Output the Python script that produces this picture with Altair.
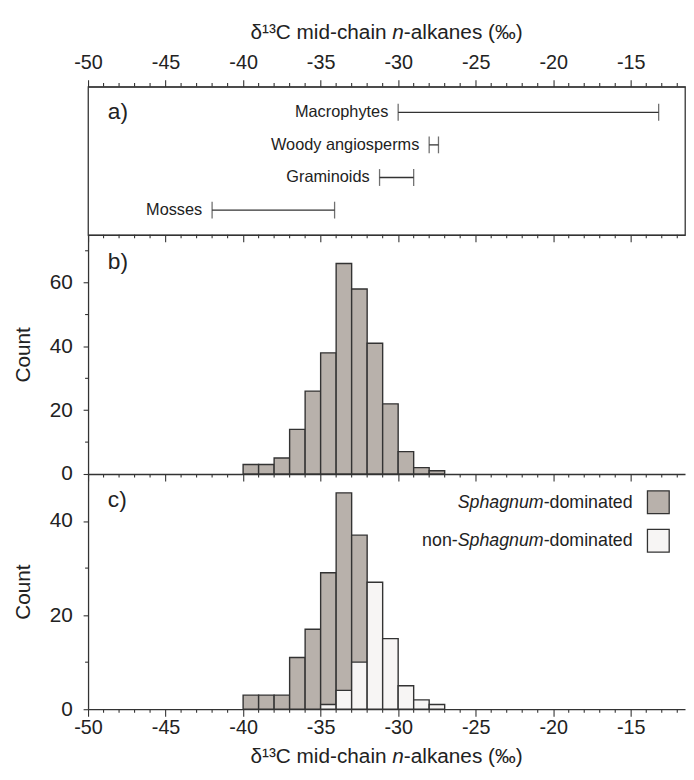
import json
import altair as alt
import pandas as pd

FONT = "Liberation Sans"
INK = "#333333"
TEXT = "#222222"
GRAY = "#b8b1ab"
WHITE = "#f7f5f4"

# ---- data ----
groups = ["Macrophytes", "Woody angiosperms", "Graminoids", "Mosses"]
range_lo = [-30.0, -28.0, -31.2, -42.0]
range_hi = [-13.2, -27.4, -29.0, -34.1]

bin_lo = [-40, -39, -38, -37, -36, -35, -34, -33, -32, -31, -30, -29, -28]
bin_hi = [-39, -38, -37, -36, -35, -34, -33, -32, -31, -30, -29, -28, -27]
counts_all = [3, 3, 5, 14, 26, 38, 66, 58, 41, 22, 7, 2, 1]
counts_sph = [3, 3, 3, 11, 17, 29, 46, 37, 0, 0, 0, 0, 0]
counts_non = [0, 0, 0, 0, 0, 1, 4, 10, 27, 15, 5, 2, 1]

x_major = [-50, -45, -40, -35, -30, -25, -20, -15]
x_minor = [v for v in range(-50, -11) if v % 5 != 0]
x_domain = [-50, -11.5]
yb_major = [0, 20, 40, 60]
yb_minor = [10, 30, 50, 70]
yc_major = [0, 20, 40]
yc_minor = [10, 30]

W = 604
HA, HB, HC = 150, 242, 238

df_a = pd.DataFrame({"group": groups, "lo": range_lo, "hi": range_hi})
df_b = pd.DataFrame({"lo": bin_lo, "hi": bin_hi, "n": counts_all})
df_cs = pd.DataFrame({"lo": bin_lo, "hi": bin_hi, "n": counts_sph})
df_cn = pd.DataFrame({"lo": bin_lo, "hi": bin_hi, "n": counts_non})
df_xminor = pd.DataFrame({"v": x_minor})
one = pd.DataFrame({"k": [0]})

xscale = alt.Scale(domain=x_domain, nice=False, zero=False)
yb_scale = alt.Scale(domain=[0, 75], nice=False)
yc_scale = alt.Scale(domain=[0, 50], nice=False)


def x_axis(orient, show_labels):
    kw = dict(orient=orient, values=x_major, title=None, grid=False, tickSize=7,
              labels=show_labels, domainColor=INK, tickColor=INK, tickWidth=1.1,
              domainWidth=1.3)
    if show_labels:
        kw.update(labelExpr="'' + datum.value", labelFontSize=20,
                  labelPadding=7 if orient == "top" else 2, labelOverlap=False,
                  labelColor=TEXT, labelFlush=False, labelBound=False, labelFont=FONT)
    return alt.Axis(**kw)


def y_axis(vals):
    return alt.Axis(values=vals, title="Count", grid=False, tickSize=5,
                    labelExpr="'' + datum.value",
                    labelFontSize=21, labelPadding=11, labelColor=TEXT, labelFont=FONT,
                    labelOverlap=False, domainColor=INK, tickColor=INK, tickWidth=1.1,
                    domainWidth=1.3, titleFontSize=21, titleFontWeight="normal",
                    titleFont=FONT, titleColor=TEXT, titleX=-65, titleBaseline="middle")


def txt(s, x, y, size=21, align="left", style="normal", base="middle"):
    return alt.Chart(one).mark_text(text=s, align=align, baseline=base, fontSize=size,
                                    font=FONT, fontStyle=style, color=TEXT).encode(
        x=alt.value(x), y=alt.value(y))


def axis_title(y):
    return [
        txt("δ¹³C mid-chain", 302.0, y, align="right"),
        txt("n", 307.8, y, style="italic"),
        txt("-alkanes (‰)", 319.5, y),
    ]


def x_minor_ticks(y0, y1, axis):
    return alt.Chart(df_xminor).mark_rule(color=INK, strokeWidth=1.1).encode(
        x=alt.X("v:Q", scale=xscale, axis=axis), y=alt.value(y0), y2=alt.value(y1))


def y_minor_ticks(vals, scale, axis):
    return alt.Chart(pd.DataFrame({"v": vals})).mark_rule(color=INK, strokeWidth=1.1).encode(
        y=alt.Y("v:Q", scale=scale, axis=axis), x=alt.value(0), x2=alt.value(-3))


# ---- panel a ----
ya = alt.Y("row:Q", scale=alt.Scale(domain=[0, len(groups) - 1], range=[26, 125]), axis=None)
base_a = alt.Chart(df_a).transform_calculate(
    row=f"indexof({json.dumps(groups)}, datum.group)")
rule_a = base_a.mark_rule(color=INK, strokeWidth=1.3).encode(
    x=alt.X("lo:Q", scale=xscale, axis=x_axis("top", True)), x2="hi:Q", y=ya)
cap1 = base_a.mark_rule(color=INK, strokeWidth=1.3).encode(
    x=alt.X("lo:Q", scale=xscale, axis=x_axis("bottom", False)), y=ya,
    yOffset=alt.value(-8.5), y2=ya, y2Offset=alt.value(8.5)) if False else None

cap_lo = base_a.mark_tick(color=INK, size=17, thickness=1.3).encode(
    x=alt.X("lo:Q", scale=xscale, axis=x_axis("bottom", False)), y=ya)
cap_hi = base_a.mark_tick(color=INK, size=17, thickness=1.3).encode(
    x=alt.X("hi:Q", scale=xscale, axis=None), y=ya)
lab_a = base_a.mark_text(align="right", baseline="middle", dx=-10, fontSize=16.5,
                         font=FONT, color=TEXT).encode(
    x=alt.X("lo:Q", scale=xscale, axis=None), y=ya, text="group:N")

panel_a = alt.layer(rule_a, cap_lo, cap_hi, lab_a,
                    x_minor_ticks(0, -3.5, None), x_minor_ticks(HA, HA + 3.5, None),
                    txt("a)", 20, 26, size=23), *axis_title(-54)).resolve_axis(
    x="independent").properties(width=W, height=HA,
                                view=alt.ViewBackground(stroke=INK, strokeWidth=1.3))

# ---- panel b ----
xb_axis = x_axis("bottom", False)
yb_axis = y_axis(yb_major)
bars_b = alt.Chart(df_b).transform_filter("datum.n > 0").mark_rect(
    fill=GRAY, stroke=INK, strokeWidth=1.4).encode(
    x=alt.X("lo:Q", scale=xscale, axis=xb_axis), x2="hi:Q",
    y=alt.Y("n:Q", scale=yb_scale, axis=yb_axis),
    y2=alt.datum(0))
panel_b = alt.layer(bars_b, x_minor_ticks(HB, HB + 3.5, xb_axis),
                    y_minor_ticks(yb_minor, yb_scale, yb_axis),
                    txt("b)", 20, 28, size=23)).properties(
    width=W, height=HB, view=alt.ViewBackground(stroke=None))

# ---- panel c ----
xc_axis = x_axis("bottom", True)
yc_axis = y_axis(yc_major)
bars_cs = alt.Chart(df_cs).transform_filter("datum.n > 0").mark_rect(
    fill=GRAY, stroke=INK, strokeWidth=1.4).encode(
    x=alt.X("lo:Q", scale=xscale, axis=xc_axis), x2="hi:Q",
    y=alt.Y("n:Q", scale=yc_scale, axis=yc_axis), y2=alt.datum(0))
bars_cn = alt.Chart(df_cn).transform_filter("datum.n > 0").mark_rect(
    fill=WHITE, stroke=INK, strokeWidth=1.4).encode(
    x=alt.X("lo:Q", scale=xscale, axis=xc_axis), x2="hi:Q",
    y=alt.Y("n:Q", scale=yc_scale, axis=yc_axis), y2=alt.datum(0))


def swatch(fill, y0):
    return alt.Chart(one).mark_rect(fill=fill, stroke=INK, strokeWidth=1.3).encode(
        x=alt.value(566), x2=alt.value(588), y=alt.value(y0), y2=alt.value(y0 + 23))


legend = [
    swatch(GRAY, 17), swatch(WHITE, 56),
    txt("-dominated", 551, 29, size=18, align="right"),
    txt("Sphagnum", 461, 29, size=18, align="right", style="italic"),
    txt("-dominated", 551, 68, size=18, align="right"),
    txt("Sphagnum", 461, 68, size=18, align="right", style="italic"),
    txt("non-", 374, 68, size=18, align="right"),
]

panel_c = alt.layer(bars_cs, bars_cn, x_minor_ticks(HC, HC + 3.5, xc_axis),
                    y_minor_ticks(yc_minor, yc_scale, yc_axis), *legend,
                    txt("c)", 20, 26, size=23), *axis_title(286)).properties(
    width=W, height=HC, view=alt.ViewBackground(stroke=None))

chart = alt.vconcat(panel_a, panel_b, panel_c, spacing=0, bounds="flush").properties(
    padding={"left": 5, "top": 9, "right": 0, "bottom": 0}
).configure_view(stroke=None).configure(font=FONT)

chart.save("out.html", embed_options={"renderer": "svg", "actions": False})
